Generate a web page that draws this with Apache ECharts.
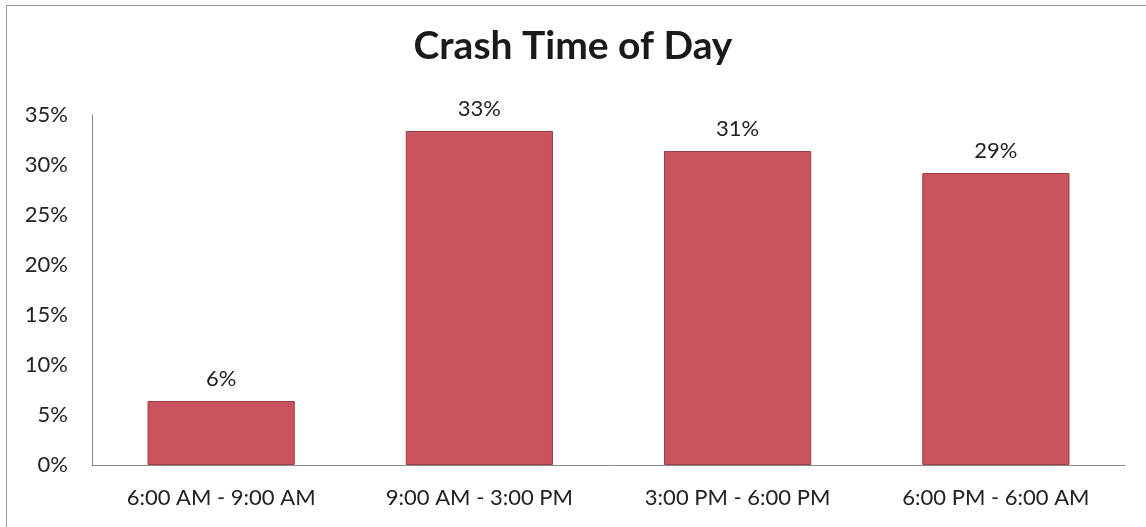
<!DOCTYPE html>
<html>
<head>
<meta charset="utf-8">
<script src="https://cdn.jsdelivr.net/npm/echarts@6/dist/echarts.min.js"></script>
<style>
  html, body { margin: 0; padding: 0; background: #fff; }
  #chart { width: 1146px; height: 527px; }
  #frame { position: absolute; left: 6px; top: 5px; width: 1140px; height: 522px;
           border-left: 1px solid #9a9a9a; border-top: 1px solid #9a9a9a; pointer-events: none; }
</style>
</head>
<body>
<div id="chart"></div>
<div id="frame"></div>
<script>
// time bands and share of crashes (%)
var categories = ['6:00 AM - 9:00 AM', '9:00 AM - 3:00 PM', '3:00 PM - 6:00 PM', '6:00 PM - 6:00 AM'];
var shares = [6.4, 33.4, 31.4, 29.2];
var yTicks = [0, 5, 10, 15, 20, 25, 30, 35];

var fontFam = 'Lato, "Open Sans", sans-serif';
var chart = echarts.init(document.getElementById('chart'));

chart.setOption({
    animation: false,
    title: {
        text: 'Crash Time of Day',
        left: 'center',
        top: 22,
        textStyle: { fontFamily: fontFam, fontSize: 39, fontWeight: 'bold', color: '#1a1a1a' }
    },
    grid: { left: 92, right: 21, top: 115, bottom: 62, containLabel: false },
    xAxis: {
        type: 'category',
        data: categories,
        axisLine: { lineStyle: { color: '#8c8c8c', width: 1 } },
        axisTick: { show: false },
        axisLabel: { fontFamily: fontFam, fontSize: 22, color: '#222', margin: 22 }
    },
    yAxis: {
        type: 'value',
        min: yTicks[0],
        max: yTicks[yTicks.length - 1],
        interval: 5,
        axisLine: { show: true, lineStyle: { color: '#8c8c8c', width: 1 } },
        axisTick: { show: false },
        splitLine: { show: false },
        axisLabel: { fontFamily: fontFam, fontSize: 22, color: '#222', margin: 24, formatter: '{value}%' }
    },
    series: [{
        type: 'bar',
        data: shares,
        barWidth: '57%',
        itemStyle: { color: '#c9545d', borderColor: '#9e3e44', borderWidth: 1 },
        label: {
            show: true,
            position: 'top',
            distance: 11,
            fontFamily: fontFam,
            fontSize: 22,
            color: '#222',
            formatter: function (p) { return Math.round(p.value) + '%'; }
        }
    }]
});
</script>
</body>
</html>
